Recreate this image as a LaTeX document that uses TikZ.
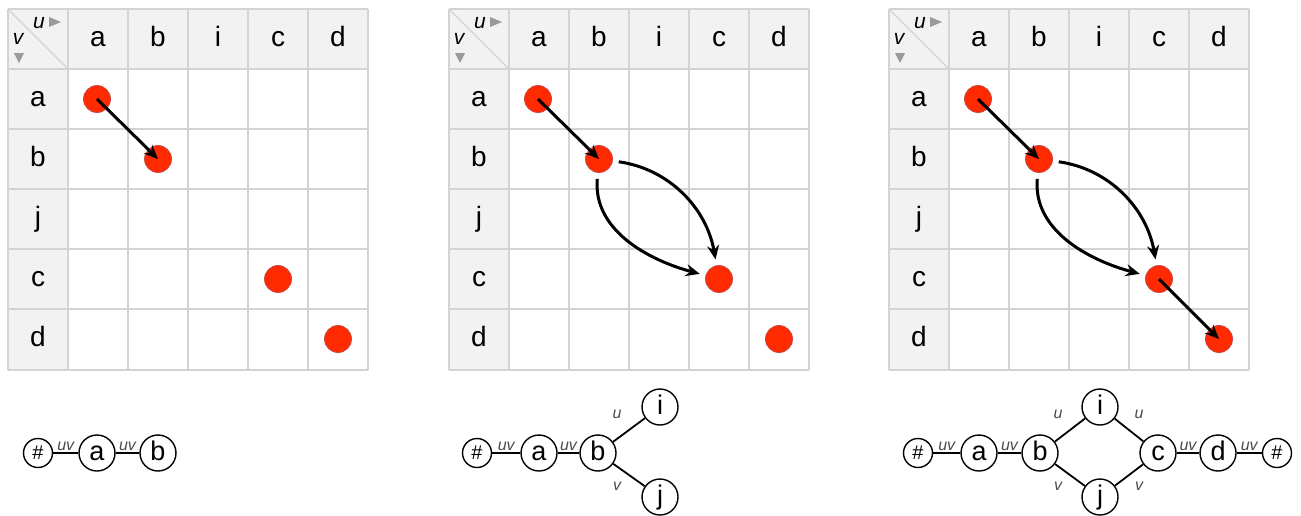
\documentclass[tikz,border=0pt]{standalone}
\usepackage{fontspec}
\setmainfont{Liberation Sans}
\usetikzlibrary{arrows.meta}
\definecolor{gridc}{HTML}{D3D3D3}
\definecolor{headc}{HTML}{F2F2F2}
\definecolor{dotc}{HTML}{FF2A00}
\definecolor{dotb}{HTML}{C84848}
\definecolor{trig}{HTML}{9A9A9A}
\tikzset{
 dot/.style={circle, fill=dotc, draw=dotb, line width=0.8pt, minimum size=27pt, inner sep=0pt},
 arr/.style={-{Stealth[length=14pt,width=12pt]}, line width=3pt},
 curarr/.style={arr, shorten <=6pt, shorten >=6pt},
 lab/.style={font=\fontsize{28}{30}\selectfont, text height=15pt, text depth=0pt, inner sep=0pt},
 corner/.style={font=\itshape\fontsize{21}{22}\selectfont, inner sep=0pt},
 gline/.style={draw=gridc, line width=1.5pt},
 gnode/.style={circle, draw, line width=1.4pt, minimum size=36pt, inner sep=0pt, font=\fontsize{27}{28}\selectfont, text height=14pt, text depth=0pt},
 hnode/.style={circle, draw, line width=1.4pt, minimum size=29pt, inner sep=0pt, font=\fontsize{20}{20}\selectfont},
 gedge/.style={line width=1.8pt},
 elab/.style={font=\itshape\fontsize{16}{16}\selectfont, text=black!70, inner sep=1pt},
}
\newcommand\drawgrid[2]{%
\begin{scope}[shift={(#1,9)}]
 \fill[headc] (0,0) rectangle (360,60);
 \fill[headc] (0,60) rectangle (60,361);
 \foreach \k in {0,...,6} {\draw[gline] (60*\k,0) -- (60*\k,361);}
 \foreach \k in {0,...,5} {\draw[gline] (0,60*\k) -- (360,60*\k);}
 \draw[gline] (0,361) -- (360,361);
 \draw[gridc, line width=1.2pt] (0,0) -- (60,60);
 \node[corner] (#2u) at (31,14) {u};
 \node[corner] (#2v) at (10,30) {v};
 \fill[trig] (41,8) -- (53,13) -- (41,18) -- cycle;
 \fill[trig] (6,44) -- (16,44) -- (11,54) -- cycle;
 \node[lab] (#2ha) at (90,30) {a};
 \node[lab] (#2hb) at (150,30) {b};
 \node[lab] (#2hi) at (210,30) {i};
 \node[lab] (#2hc) at (270,30) {c};
 \node[lab] (#2hd) at (330,30) {d};
 \node[lab] (#2ra) at (30,90) {a};
 \node[lab] (#2rb) at (30,150) {b};
 \node[lab] (#2rj) at (30,210) {j};
 \node[lab] (#2rc) at (30,270) {c};
 \node[lab] (#2rd) at (30,330) {d};
 \node[dot] (#2a) at (89,90) {};
 \node[dot] (#2b) at (150,150) {};
 \node[dot] (#2c) at (270,270) {};
 \node[dot] (#2d) at (330,330) {};
\end{scope}}
\begin{document}
\begin{tikzpicture}[x=1pt,y=-1pt]
\useasboundingbox (0,0) rectangle (1301,515);
\fill[white] (0,0) rectangle (1301,515);
\drawgrid{8}{ga}
\drawgrid{449}{gb}
\drawgrid{889}{gc}
% grid arrows
\draw[arr] (gaa.center) -- (gab.center);
\draw[arr] (gba.center) -- (gbb.center);
\draw[curarr] (gbb) to[out=-8,in=100] (gbc);
\draw[curarr] (gbb) to[out=-95,in=165] (gbc);
\draw[arr] (gca.center) -- (gcb.center);
\draw[curarr] (gcb) to[out=-8,in=100] (gcc);
\draw[curarr] (gcb) to[out=-95,in=165] (gcc);
\draw[arr] (gcc.center) -- (gcd.center);
% graph 1
\node[hnode] (n1h) at (38,453) {\#};
\node[gnode] (n1a) at (97,453) {a};
\node[gnode] (n1b) at (158,453) {b};
\draw[gedge] (n1h) -- node[elab,above]{uv} (n1a);
\draw[gedge] (n1a) -- node[elab,above]{uv} (n1b);
% graph 2
\node[hnode] (n2h) at (477,453) {\#};
\node[gnode] (n2a) at (539,453) {a};
\node[gnode] (n2b) at (598,453) {b};
\node[gnode] (n2i) at (660,407) {i};
\node[gnode] (n2j) at (660,497) {j};
\draw[gedge] (n2h) -- node[elab,above]{uv} (n2a);
\draw[gedge] (n2a) -- node[elab,above]{uv} (n2b);
\draw[gedge] (n2b) -- (n2i);
\draw[gedge] (n2b) -- (n2j);
\node[elab] (l2u) at (617,414) {u};
\node[elab] (l2v) at (617,486) {v};
% graph 3
\node[hnode] (n3h) at (918,453) {\#};
\node[gnode] (n3a) at (979,453) {a};
\node[gnode] (n3b) at (1040,453) {b};
\node[gnode] (n3i) at (1100,407) {i};
\node[gnode] (n3j) at (1100,497) {j};
\node[gnode] (n3c) at (1158,453) {c};
\node[gnode] (n3d) at (1218,453) {d};
\node[hnode] (n3k) at (1277,453) {\#};
\draw[gedge] (n3h) -- node[elab,above]{uv} (n3a);
\draw[gedge] (n3a) -- node[elab,above]{uv} (n3b);
\draw[gedge] (n3b) -- (n3i);
\draw[gedge] (n3b) -- (n3j);
\draw[gedge] (n3i) -- (n3c);
\draw[gedge] (n3j) -- (n3c);
\draw[gedge] (n3c) -- node[elab,above]{uv} (n3d);
\draw[gedge] (n3d) -- node[elab,above]{uv} (n3k);
\node[elab] (l3u1) at (1058,414) {u};
\node[elab] (l3v1) at (1058,486) {v};
\node[elab] (l3u2) at (1139,414) {u};
\node[elab] (l3v2) at (1139,486) {v};
\end{tikzpicture}
\end{document}
